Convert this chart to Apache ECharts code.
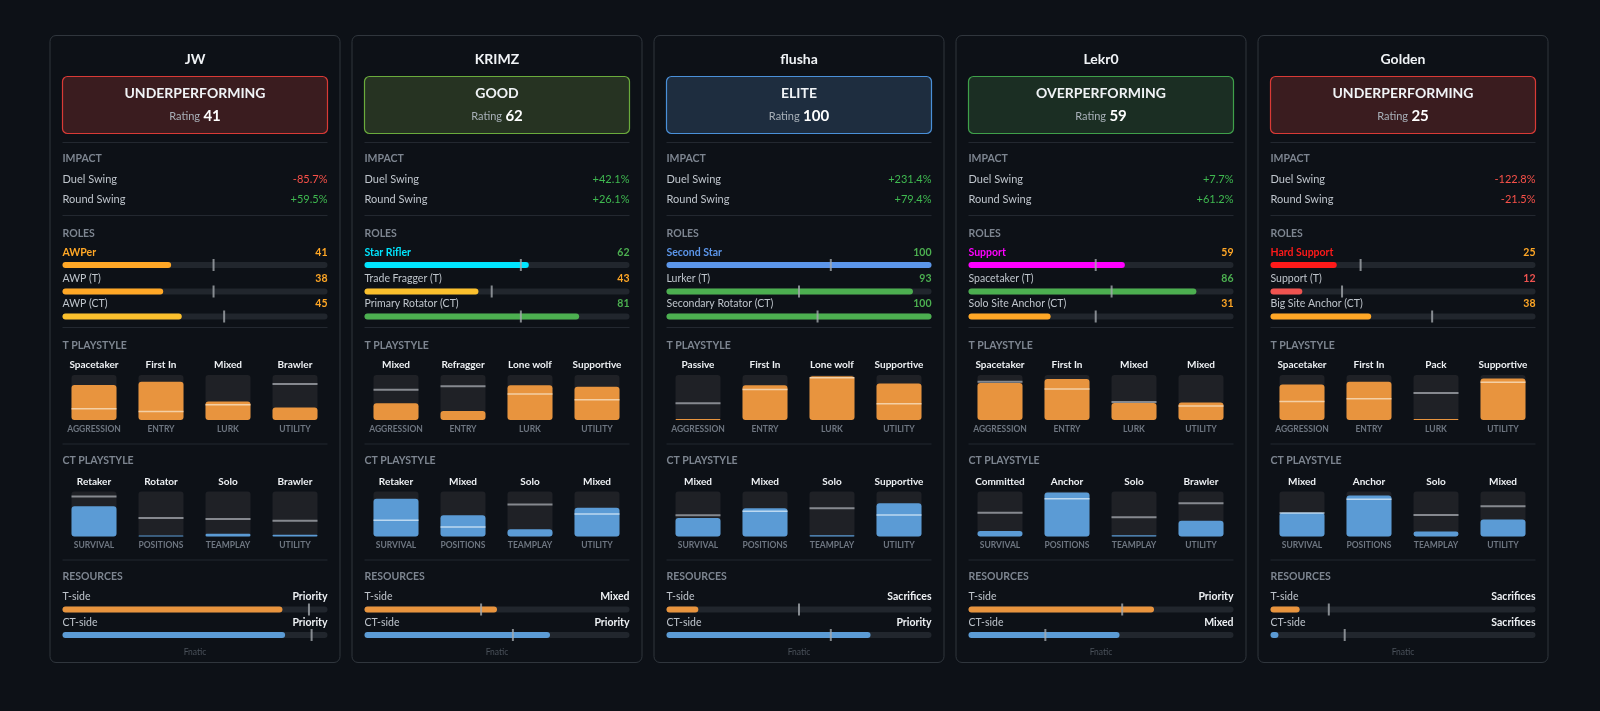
<!DOCTYPE html>
<html><head><meta charset="utf-8">
<script src="https://cdn.jsdelivr.net/npm/echarts@6/dist/echarts.min.js"></script>
<style>html,body{margin:0;padding:0;background:#0d1117;}#c{width:1600px;height:711px;}</style>
</head><body><div id="c"></div>
<script>
// ---------- data ----------
const team = 'Fnatic';
const players = ['JW','KRIMZ','flusha','Lekr0','Golden'];
const statusLabels = ['UNDERPERFORMING','GOOD','ELITE','OVERPERFORMING','UNDERPERFORMING'];
const ratings = [41,62,100,59,25];
const duelSwing = [-85.7, 42.1, 231.4, 7.7, -122.8];
const roundSwing = [59.5, 26.1, 79.4, 61.2, -21.5];
const mainRoles = ['AWPer','Star Rifler','Second Star','Support','Hard Support'];
const mainRoleAvg = [57, 59, 62, 48, 34];
const tRoles = ['AWP (T)','Trade Fragger (T)','Lurker (T)','Spacetaker (T)','Support (T)'];
const tRoleValues = [38,43,93,86,12];
const tRoleAvg = [57,48,50,54,27];
const ctRoles = ['AWP (CT)','Primary Rotator (CT)','Secondary Rotator (CT)','Solo Site Anchor (CT)','Big Site Anchor (CT)'];
const ctRoleValues = [45,81,100,31,38];
const ctRoleAvg = [61,59,57,48,61];
const tMetrics = ['AGGRESSION','ENTRY','LURK','UTILITY'];
const tStyleLabels = [
  ['Spacetaker','First In','Mixed','Brawler'],
  ['Mixed','Refragger','Lone wolf','Supportive'],
  ['Passive','First In','Lone wolf','Supportive'],
  ['Spacetaker','First In','Mixed','Mixed'],
  ['Spacetaker','First In','Pack','Supportive']];
const tStyleValues = [[78,85,41,28],[37,20,77,74],[2,77,97,81],[82,91,38,39],[79,85,2,92]];
const tStyleAvg = [[25,19,34,80],[67,75,58,45],[37,68,94,36],[85,69,40,31],[41,47,60,84]];
const ctMetrics = ['SURVIVAL','POSITIONS','TEAMPLAY','UTILITY'];
const ctStyleLabels = [
  ['Retaker','Rotator','Solo','Brawler'],
  ['Retaker','Mixed','Solo','Mixed'],
  ['Mixed','Mixed','Solo','Supportive'],
  ['Committed','Anchor','Solo','Brawler'],
  ['Mixed','Anchor','Solo','Mixed']];
const ctStyleValues = [[67,2,6,4],[84,47,16,64],[41,63,3,74],[12,98,3,35],[53,91,11,38]];
const ctStyleAvg = [[89,41,39,35],[36,21,71,50],[47,56,63,48],[53,84,43,74],[52,83,48,67]];
const resTLabels = ['Priority','Mixed','Sacrifices','Priority','Sacrifices'];
const resTValues = [83,50,12,70,11];
const resTAvg = [93,44,50,58,22];
const resCTLabels = ['Priority','Priority','Priority','Mixed','Sacrifices'];
const resCTValues = [84,70,77,57,3];
const resCTAvg = [94,56,62,29,28];

// ---------- styles ----------
const FONT = 'Lato, "Noto Sans", sans-serif';
const themes = {
  UNDERPERFORMING:{bg:'#3a1c1f', border:'#d93a36'},
  GOOD:{bg:'#263322', border:'#6aab3c'},
  ELITE:{bg:'#1e2d3f', border:'#4a90d9'},
  OVERPERFORMING:{bg:'#1b2e23', border:'#3fa04a'}
};
const roleColors = {'AWPer':'#ffa726','Star Rifler':'#00e5ff','Second Star':'#5c96ea','Support':'#ff00ff','Hard Support':'#ff1a1a'};
const ORANGE = '#e8943e', BLUE = '#5b9bd5';
function valColor(v){ return v>=60 ? '#4caf50' : (v>=20 ? '#ffa726' : '#ef5350'); }
function barColor(v){ return v>=60 ? '#4caf50' : (v>=40 ? '#fbc02d' : (v>=20 ? '#ffa726' : '#ef5350')); }

const graphic = [], grid = [], xAxis = [], yAxis = [], series = [];
function T(x, y, text, size, weight, fill, align){
  graphic.push({type:'text', z:50, silent:true, style:{x, y, text, font: weight+' '+size+'px '+FONT, fill, textAlign:align||'left', textVerticalAlign:'middle'}});
}
function hbar(x, y, w, val, avg, color){
  const gi = grid.length;
  grid.push({left:x, top:y-3, width:w, height:6});
  xAxis.push({type:'value', gridIndex:gi, min:0, max:100, show:false});
  yAxis.push({type:'category', gridIndex:gi, data:['v'], show:false});
  series.push({type:'bar', xAxisIndex:gi, yAxisIndex:gi, data:[val], barWidth:6, showBackground:true,
    backgroundStyle:{color:'#21262d', borderRadius:3}, itemStyle:{color, borderRadius:3}, silent:true, animation:false});
  series.push({type:'scatter', xAxisIndex:gi, yAxisIndex:gi, data:[[avg,0]], symbol:'rect', symbolSize:[2,12], clip:false,
    itemStyle:{color:'#a2a7ad'}, z:5, silent:true, animation:false});
}
function vbox(cx, top, val, avg, color, light){
  const gi = grid.length;
  grid.push({left:cx-22.5, top, width:45, height:45});
  xAxis.push({type:'category', gridIndex:gi, data:['v'], show:false});
  yAxis.push({type:'value', gridIndex:gi, min:0, max:100, show:false});
  series.push({type:'bar', xAxisIndex:gi, yAxisIndex:gi, data:[val], barWidth:45, showBackground:true,
    backgroundStyle:{color:'#1f2126', borderRadius:3}, itemStyle:{color, borderRadius:3}, silent:true, animation:false});
  const inside = avg < val;
  series.push({type:'scatter', xAxisIndex:gi, yAxisIndex:gi, data:[[0,avg]], symbol:'rect', symbolSize:[45, inside?1.5:2], clip:false,
    itemStyle:{color: inside ? light : '#a0a4aa'}, z:5, silent:true, animation:false});
}
function fmt(v){ return (v>=0?'+':'') + v.toFixed(1) + '%'; }

players.forEach((p, i) => {
  const X = 50 + i*302, Y = 35.5, W = 290, H = 627;
  const L = X + 12.5, R = X + 277.5, IW = 265, CX = X + W/2;
  graphic.push({type:'rect', z:0, silent:true, shape:{x:X, y:Y, width:W, height:H, r:6}, style:{fill:'#0d1117', stroke:'#30363d', lineWidth:1}});
  T(CX, Y+23.5, p, 14, 'bold', '#f0f3f6', 'center');
  const th = themes[statusLabels[i]];
  graphic.push({type:'rect', z:1, silent:true, shape:{x:L, y:Y+41, width:IW, height:57, r:5}, style:{fill:th.bg, stroke:th.border, lineWidth:1.2}});
  T(CX, Y+57.5, statusLabels[i], 14, 'bold', '#f0f3f6', 'center');
  graphic.push({type:'text', z:50, silent:true, style:{x:CX, y:Y+81, text:'{a|Rating} {b|'+ratings[i]+'}', textAlign:'center', textVerticalAlign:'middle',
    rich:{a:{fontSize:11, fontFamily:FONT, fill:'#a8b0b8'}, b:{fontSize:15, fontWeight:'bold', fontFamily:FONT, fill:'#ffffff'}}}});
  [107, 180, 292, 408.5, 524.5].forEach(ry => graphic.push({type:'line', z:1, silent:true, shape:{x1:L, y1:Y+ry, x2:R, y2:Y+ry}, style:{stroke:'#232830', lineWidth:1}}));
  const secs = [['IMPACT',123.5],['ROLES',198],['T PLAYSTYLE',310],['CT PLAYSTYLE',425],['RESOURCES',541.5]];
  secs.forEach(s => T(L, Y+s[1], s[0], 10.5, 'bold', '#7d8590', 'left'));
  // impact
  T(L, Y+144, 'Duel Swing', 11, 'normal', '#bfc5cc');
  T(R, Y+144, fmt(duelSwing[i]), 11, 'normal', duelSwing[i] >= 0 ? '#3fb950' : '#f85149', 'right');
  T(L, Y+164, 'Round Swing', 11, 'normal', '#bfc5cc');
  T(R, Y+164, fmt(roundSwing[i]), 11, 'normal', roundSwing[i] >= 0 ? '#3fb950' : '#f85149', 'right');
  // roles
  const rc = roleColors[mainRoles[i]];
  T(L, Y+217, mainRoles[i], 10.5, 'bold', rc);
  T(R, Y+217, String(ratings[i]), 10.5, 'bold', valColor(ratings[i]), 'right');
  hbar(L, Y+229.5, IW, ratings[i], mainRoleAvg[i], rc);
  T(L, Y+243.5, tRoles[i], 10.5, 'normal', '#bfc5cc');
  T(R, Y+243.5, String(tRoleValues[i]), 10.5, 'bold', valColor(tRoleValues[i]), 'right');
  hbar(L, Y+256, IW, tRoleValues[i], tRoleAvg[i], barColor(tRoleValues[i]));
  T(L, Y+268, ctRoles[i], 10.5, 'normal', '#bfc5cc');
  T(R, Y+268, String(ctRoleValues[i]), 10.5, 'bold', valColor(ctRoleValues[i]), 'right');
  hbar(L, Y+281, IW, ctRoleValues[i], ctRoleAvg[i], barColor(ctRoleValues[i]));
  // playstyles
  const cols = [44, 111, 178, 245];
  cols.forEach((c, k) => {
    T(X+c, Y+329.5, tStyleLabels[i][k], 10, 'bold', '#eef1f4', 'center');
    vbox(X+c, Y+339.5, tStyleValues[i][k], tStyleAvg[i][k], ORANGE, '#f6dfc0');
    T(X+c, Y+393.5, tMetrics[k], 8.5, 'bold', '#6e7681', 'center');
    T(X+c, Y+446, ctStyleLabels[i][k], 10, 'bold', '#eef1f4', 'center');
    vbox(X+c, Y+456, ctStyleValues[i][k], ctStyleAvg[i][k], BLUE, '#d6e8f7');
    T(X+c, Y+510, ctMetrics[k], 8.5, 'bold', '#6e7681', 'center');
  });
  // resources
  T(L, Y+561, 'T-side', 10.5, 'normal', '#bfc5cc');
  T(R, Y+561, resTLabels[i], 10.5, 'bold', '#eef1f4', 'right');
  hbar(L, Y+574, IW, resTValues[i], resTAvg[i], ORANGE);
  T(L, Y+587.5, 'CT-side', 10.5, 'normal', '#bfc5cc');
  T(R, Y+587.5, resCTLabels[i], 10.5, 'bold', '#eef1f4', 'right');
  hbar(L, Y+599.5, IW, resCTValues[i], resCTAvg[i], BLUE);
  T(CX, Y+616.5, team, 8.5, 'normal', '#4a515a', 'center');
});

const chart = echarts.init(document.getElementById('c'));
chart.setOption({backgroundColor:'#0d1117', animation:false, graphic:{elements:graphic}, grid, xAxis, yAxis, series});
</script></body></html>
